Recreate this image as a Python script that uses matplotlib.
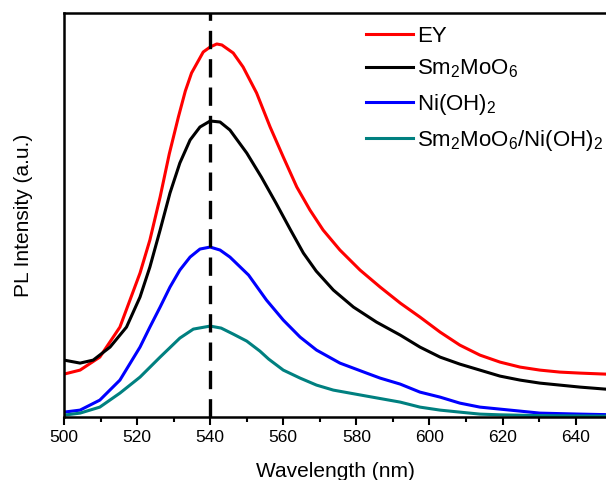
import numpy as np
import matplotlib.pyplot as plt

plt.rcParams['font.family'] = ['Liberation Sans', 'DejaVu Sans']
plt.rcParams['mathtext.fontset'] = 'custom'
plt.rcParams['mathtext.rm'] = 'Liberation Sans'
plt.rcParams['mathtext.it'] = 'Liberation Sans:italic'

# wavelength (nm) and PL intensity (a.u.)
wl_ey = [500, 504.4, 509.8, 515.3, 520.8, 523.5, 526.3, 528.8, 531.3, 533.2, 534.9, 538.1, 540,
         541.8, 543.2, 546.3, 549, 552.7, 556.4, 560, 563.7, 567.3, 570.9, 575.5, 581, 586.5,
         592, 597.4, 602.9, 608.3, 613.8, 619.3, 624.8, 630.2, 635.7, 641.2, 648.1]
ey = [43, 47, 60, 90, 144, 177, 220, 263, 300, 326, 344, 365, 370,
      373, 372, 364, 350, 324, 290, 260, 230, 207, 187, 167, 147, 130,
      114, 100, 85, 72, 62, 55, 50, 47, 45, 44, 43]

wl_sm = [500, 504.4, 508, 512.6, 517.1, 520.8, 523.5, 526.3, 529, 531.7, 534.5, 537.2, 540,
         542.7, 545.4, 550, 554, 558, 562, 565.5, 569, 573.7, 579.2, 585.5, 592, 597.4,
         602.9, 608.3, 613.8, 619.3, 624.8, 630.2, 635.7, 641.2, 648.1]
sm = [57, 54, 57, 70, 90, 120, 150, 187, 224, 254, 277, 290, 296,
      295, 287, 264, 240, 214, 187, 164, 146, 127, 110, 95, 82, 70,
      60, 53, 47, 41, 37, 34, 32, 30, 28]

wl_ni = [500, 504.4, 509.8, 515.3, 520.8, 523.5, 526.3, 529, 531.7, 534.5, 537.2, 540, 542.7,
         545.4, 550.5, 555.4, 560, 564.6, 569.1, 575.5, 582.8, 586.5, 592, 597.4, 602.9,
         608.3, 613.8, 619.3, 624.8, 630.2, 641.2, 648]
ni = [5, 7, 17, 37, 70, 90, 110, 130, 147, 160, 168, 170, 167,
      160, 142, 117, 97, 80, 67, 54, 44, 39, 33, 25, 20,
      14, 10, 8, 6, 4, 3, 2.5]

wl_mix = [500, 504.4, 509.8, 515.3, 520.8, 526.3, 531.7, 535.4, 540, 543, 546.3, 550, 553.6,
          556, 560, 564.6, 569.1, 573.7, 582.8, 592, 597.4, 602.9, 608.3, 613.8, 619.3,
          630.2, 648]
mix = [2, 4, 10, 24, 40, 60, 79, 88, 91, 89, 83, 76, 66,
       58, 47, 39, 32, 27, 21, 15, 10, 7, 5, 3, 2.3,
       1.5, 1]

peak = 540

fig = plt.figure(figsize=(6.06, 4.8), dpi=100)
ax = fig.add_axes([0.1056, 0.131, 0.8944, 0.842])

ax.plot(wl_ey, ey, color='#ff0000', lw=2.2, label='EY')
ax.plot(wl_sm, sm, color='black', lw=2.2, label='Sm$_2$MoO$_6$')
ax.plot(wl_ni, ni, color='#0000ff', lw=2.2, label='Ni(OH)$_2$')
ax.plot(wl_mix, mix, color='#008080', lw=2.2, label='Sm$_2$MoO$_6$/Ni(OH)$_2$')
ax.axvline(peak, color='black', lw=2.4, ls=(0, (5.5, 3)))

ax.set_xlim(500, 648.3)
ax.set_ylim(0, 404)
ax.set_xticks(np.arange(500, 641, 20))
ax.set_xticks(np.arange(510, 648, 20), minor=True)
ax.set_yticks([])
ax.tick_params(axis='x', which='major', direction='out', length=5.5, width=1.5, labelsize=12.5, pad=4)
ax.tick_params(axis='x', which='minor', direction='out', length=3.5, width=1.5)
for s in ['left', 'bottom', 'top']:
    ax.spines[s].set_linewidth(1.8)
ax.spines['right'].set_visible(False)

ax.set_xlabel('Wavelength (nm)', fontsize=15, labelpad=12)
ax.set_ylabel('PL Intensity (a.u.)', fontsize=15, labelpad=22)

ax.legend(loc='upper left', bbox_to_anchor=(0.52, 1.018), frameon=False, fontsize=16,
          handlelength=2.1, handletextpad=0.2, labelspacing=0.5)

fig.savefig('out.png', dpi=100)
